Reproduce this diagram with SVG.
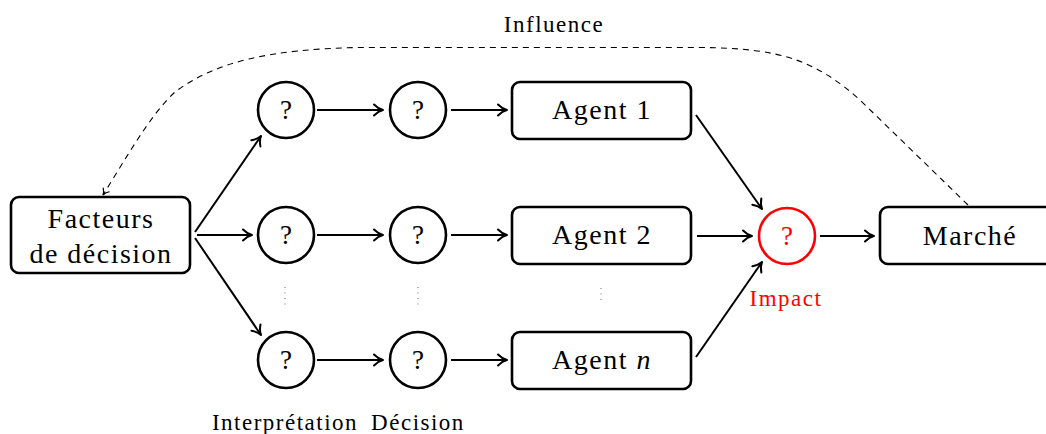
<svg xmlns="http://www.w3.org/2000/svg" width="1046" height="434" viewBox="0 0 1046 434">
<style>
text{font-family:"Liberation Serif","DejaVu Serif",serif;fill:#000;text-anchor:middle}
.big{font-size:28px;letter-spacing:1.5px}
.q{font-size:27px}
.sm{font-size:23px;letter-spacing:1.5px}
.node{fill:#fff;stroke:#000;stroke-width:2.6}
.red{stroke:#f00}
.arr{stroke:#000;stroke-width:2;fill:none;marker-end:url(#ah)}
.dots{stroke:#777;stroke-width:1.1;stroke-dasharray:1 4.5}
</style>
<defs>
<marker id="ah" markerUnits="userSpaceOnUse" viewBox="-11 -7 13 14" refX="0" refY="0" markerWidth="13" markerHeight="14" orient="auto">
<path d="M-9,-5.5 C-6,-2.5 -3,-0.7 0,0 C-3,0.7 -6,2.5 -9,5.5" fill="none" stroke="#000" stroke-width="2" stroke-linecap="round" stroke-linejoin="round"/>
</marker>
<marker id="ahs" markerUnits="userSpaceOnUse" viewBox="-8 -5 10 10" refX="0" refY="0" markerWidth="10" markerHeight="10" orient="auto">
<path d="M-6,-3.5 C-4,-1.5 -2,-0.4 0,0 C-2,0.4 -4,1.5 -6,3.5" fill="none" stroke="#000" stroke-width="1.2" stroke-linecap="round"/>
</marker>
</defs>
<g id="connectors">
<path class="arr" d="M195,232 L261,136"/>
<path class="arr" d="M197,235 L252,235"/>
<path class="arr" d="M195,238 L261,335"/>
<path class="arr" d="M317,110 L383,110"/>
<path class="arr" d="M451,110 L507,110"/>
<path class="arr" d="M317,235 L383,235"/>
<path class="arr" d="M451,235 L507,235"/>
<path class="arr" d="M317,360 L383,360"/>
<path class="arr" d="M451,360 L507,360"/>
<path class="arr" d="M696,115 L762,209"/>
<path class="arr" d="M697,236 L752,236"/>
<path class="arr" d="M696,357 L762,262"/>
<path class="arr" d="M820,236 L874,236"/>
<path d="M968,205 L860,100 C815,60 780,48 700,47.5 L360,47.5 C270,49 215,62 175,92 C150,115 125,160 103,195" fill="none" stroke="#000" stroke-width="1.1" stroke-dasharray="6 5" marker-end="url(#ahs)"/>
<line class="dots" x1="285" y1="287" x2="285" y2="308"/>
<line class="dots" x1="418" y1="287" x2="418" y2="308"/>
<line class="dots" x1="601" y1="288" x2="601" y2="303"/>
</g>
<g id="facteurs"><rect class="node" x="11" y="197" width="179" height="76" rx="8"/><text class="big" x="101" y="228">Facteurs</text><text class="big" x="101" y="263">de décision</text></g>
<g id="i1"><circle class="node" cx="286" cy="110" r="28"/><text class="q" x="286" y="119">?</text></g>
<g id="d1"><circle class="node" cx="418" cy="110" r="28"/><text class="q" x="418" y="119">?</text></g>
<g id="i2"><circle class="node" cx="286" cy="235" r="28"/><text class="q" x="286" y="244">?</text></g>
<g id="d2"><circle class="node" cx="418" cy="235" r="28"/><text class="q" x="418" y="244">?</text></g>
<g id="i3"><circle class="node" cx="286" cy="360" r="28"/><text class="q" x="286" y="369">?</text></g>
<g id="d3"><circle class="node" cx="418" cy="360" r="28"/><text class="q" x="418" y="369">?</text></g>
<g id="agent1"><rect class="node" x="512" y="82" width="179" height="57" rx="8"/><text class="big" x="602" y="119">Agent 1</text></g>
<g id="agent2"><rect class="node" x="512" y="207" width="179" height="57" rx="8"/><text class="big" x="602" y="244">Agent 2</text></g>
<g id="agentn"><rect class="node" x="512" y="332" width="179" height="57" rx="8"/><text class="big" x="602" y="369">Agent <tspan font-style="italic">n</tspan></text></g>
<g id="impact"><circle class="node red" cx="787" cy="236" r="28"/><text class="q" x="787" y="245" style="fill:#f00">?</text><text class="sm" x="786" y="306" style="fill:#f00">Impact</text></g>
<g id="marche"><rect class="node" x="880" y="207" width="175" height="57" rx="8"/><text class="big" x="970" y="245">Marché</text></g>
<text class="sm" x="554" y="32">Influence</text>
<text class="sm" x="285" y="430">Interprétation</text>
<text class="sm" x="418" y="430">Décision</text>
</svg>
